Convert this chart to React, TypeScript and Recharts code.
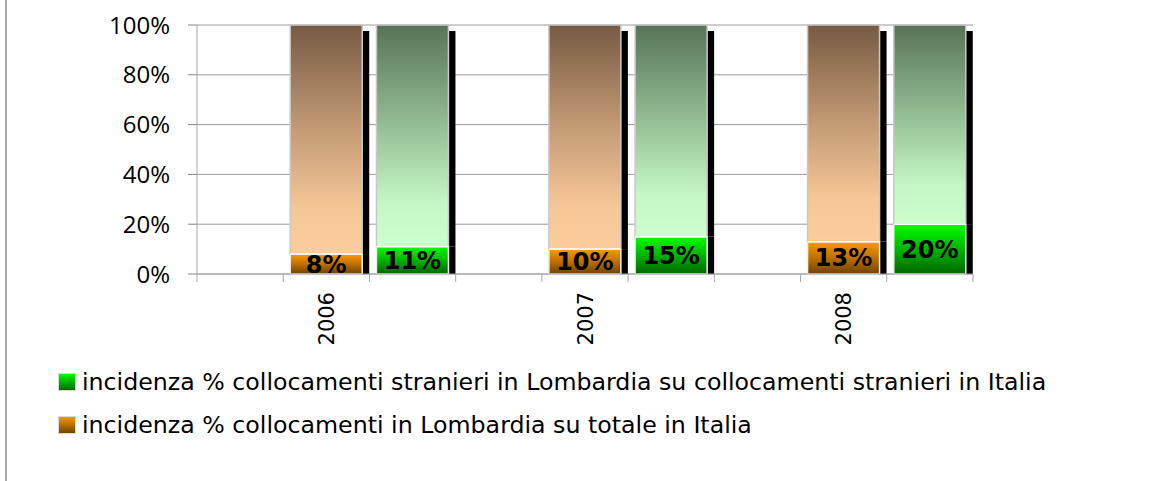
import { Bar, BarChart, CartesianGrid, LabelList, XAxis, YAxis } from "recharts";

const YEARS = ["2006", "2007", "2008"];
// incidenza % collocamenti in Lombardia su totale in Italia
const LOMBARDIA_SU_TOTALE = [8, 10, 13];
// incidenza % collocamenti stranieri in Lombardia su collocamenti stranieri in Italia
const STRANIERI_SU_STRANIERI = [11, 15, 20];
const Y_TICKS = [0, 20, 40, 60, 80, 100];
const LEGEND_LABELS = [
  "incidenza % collocamenti stranieri in Lombardia su collocamenti stranieri in Italia",
  "incidenza % collocamenti in Lombardia su totale in Italia",
];

const W = 1159;
const H = 481;
const PLOT = { left: 197, top: 25, right: 973, bottom: 274 };
const X_AXIS_H = 60;

type Kind = "none" | "orange" | "green";
type Row = { slot: string; label: string; kind: Kind; low: number | null; high: number | null };

// every year gets an empty slot, then the two bars
const rows: Row[] = [];
YEARS.forEach((year, i) => {
  rows.push({ slot: `${year}-gap`, label: "", kind: "none", low: null, high: null });
  rows.push({ slot: `${year}-tot`, label: year, kind: "orange", low: LOMBARDIA_SU_TOTALE[i], high: 100 - LOMBARDIA_SU_TOTALE[i] });
  rows.push({ slot: `${year}-str`, label: "", kind: "green", low: STRANIERI_SU_STRANIERI[i], high: 100 - STRANIERI_SU_STRANIERI[i] });
});

const segmentShape = (part: "low" | "high") => (props: any) => {
  const { x, y, width, height, payload } = props;
  if (!payload || payload.kind === "none" || !height || height <= 0) return <g />;
  const shadowTop = part === "high" ? y + 6 : y;
  return (
    <g>
      <rect x={x + width} y={shadowTop} width={7} height={y + height - shadowTop} fill="#000" />
      <rect
        x={x}
        y={y}
        width={width}
        height={height}
        fill={`url(#${payload.kind}-${part})`}
        stroke={part === "high" ? "#c8c8c8" : "#eeeeee"}
        strokeWidth={1.5}
      />
      {part === "high" && <line x1={x} x2={x + width} y1={y + height} y2={y + height} stroke="#fff" strokeWidth={1.5} />}
    </g>
  );
};

function SlotTick(props: any) {
  const { x, index } = props;
  const half = (PLOT.right - PLOT.left) / rows.length / 2;
  const row = rows[index];
  return (
    <g>
      <line x1={x - half} x2={x - half} y1={PLOT.bottom} y2={PLOT.bottom + 8} stroke="#a6a6a6" />
      {index === rows.length - 1 && (
        <line x1={x + half} x2={x + half} y1={PLOT.bottom} y2={PLOT.bottom + 8} stroke="#a6a6a6" />
      )}
      {row && row.label && (
        <text
          x={x}
          y={PLOT.bottom + 18}
          transform={`rotate(-90 ${x} ${PLOT.bottom + 18})`}
          textAnchor="end"
          dy="0.36em"
          fontFamily="DejaVu Sans"
          fontSize={21}
          fill="#000"
        >
          {row.label}
        </text>
      )}
    </g>
  );
}

function ValueLabel(props: any) {
  const { x, y, width, height, value } = props;
  if (value == null || !height) return null;
  return (
    <text
      x={x + width / 2}
      y={y + height / 2}
      dy="0.36em"
      textAnchor="middle"
      fontFamily="DejaVu Sans"
      fontWeight="bold"
      fontSize={24}
      fill="#000"
    >
      {`${value}%`}
    </text>
  );
}

const LEGEND_FILLS = ["url(#legend-green)", "url(#legend-orange)"];

export default function App() {
  return (
    <div style={{ position: "absolute", left: 0, top: 0, width: W, height: H, background: "#fff", fontFamily: "DejaVu Sans" }}>
      <div style={{ position: "absolute", left: 5, top: 0, width: 2, height: H, background: "#a8a8a8" }} />
      <BarChart
        width={W}
        height={H}
        data={rows}
        margin={{ top: PLOT.top, right: W - PLOT.right, left: 0, bottom: H - PLOT.bottom - X_AXIS_H }}
        barSize={72}
      >
        <defs>
          <linearGradient id="orange-high" x1="0" y1="0" x2="0" y2="1">
            <stop offset="0" stopColor="#765a43" />
            <stop offset="0.45" stopColor="#c39a74" />
            <stop offset="0.8" stopColor="#f5c697" />
            <stop offset="1" stopColor="#fbcd9d" />
          </linearGradient>
          <linearGradient id="green-high" x1="0" y1="0" x2="0" y2="1">
            <stop offset="0" stopColor="#587358" />
            <stop offset="0.45" stopColor="#93bd93" />
            <stop offset="0.8" stopColor="#c5f6c5" />
            <stop offset="1" stopColor="#ccffcc" />
          </linearGradient>
          <linearGradient id="orange-low" x1="0" y1="0" x2="0" y2="1">
            <stop offset="0" stopColor="#f99a00" />
            <stop offset="0.5" stopColor="#c07000" />
            <stop offset="1" stopColor="#6e4200" />
          </linearGradient>
          <linearGradient id="green-low" x1="0" y1="0" x2="0" y2="1">
            <stop offset="0" stopColor="#00ff00" />
            <stop offset="0.5" stopColor="#00b400" />
            <stop offset="1" stopColor="#006600" />
          </linearGradient>
        </defs>
        <CartesianGrid vertical={false} stroke="#9c9c9c" />
        <XAxis
          dataKey="slot"
          height={X_AXIS_H}
          interval={0}
          tickLine={false}
          axisLine={{ stroke: "#a6a6a6" }}
          tick={<SlotTick />}
        />
        <YAxis
          width={PLOT.left}
          domain={[0, 100]}
          ticks={Y_TICKS}
          tickFormatter={(v: number) => `${v}%`}
          tickSize={9}
          tickMargin={18}
          tickLine={{ stroke: "#868686" }}
          axisLine={{ stroke: "#a6a6a6" }}
          tick={{ fill: "#000", fontFamily: "Open Sans", fontSize: 24 }}
        />
        <Bar dataKey="low" stackId="a" isAnimationActive={false} shape={segmentShape("low")}>
          <LabelList dataKey="low" content={<ValueLabel />} />
        </Bar>
        <Bar dataKey="high" stackId="a" isAnimationActive={false} shape={segmentShape("high")} />
      </BarChart>
      <svg width={0} height={0} style={{ position: "absolute" }}>
        <defs>
          <linearGradient id="legend-green" x1="0" y1="0" x2="0" y2="1">
            <stop offset="0" stopColor="#00ff00" />
            <stop offset="1" stopColor="#006600" />
          </linearGradient>
          <linearGradient id="legend-orange" x1="0" y1="0" x2="0" y2="1">
            <stop offset="0" stopColor="#f99a00" />
            <stop offset="1" stopColor="#6e4200" />
          </linearGradient>
        </defs>
      </svg>
      {LEGEND_LABELS.map((label, i) => (
        <div
          key={label}
          style={{ position: "absolute", left: 58, top: 369 + i * 43, height: 26, display: "flex", alignItems: "center", whiteSpace: "nowrap" }}
        >
          <svg width={18} height={18} style={{ marginRight: 6 }}>
            <rect x={0.5} y={0.5} width={17} height={17} fill={LEGEND_FILLS[i]} stroke="#d9d9d9" />
          </svg>
          <span style={{ fontSize: 23.7, color: "#000", lineHeight: "26px" }}>{label}</span>
        </div>
      ))}
    </div>
  );
}
